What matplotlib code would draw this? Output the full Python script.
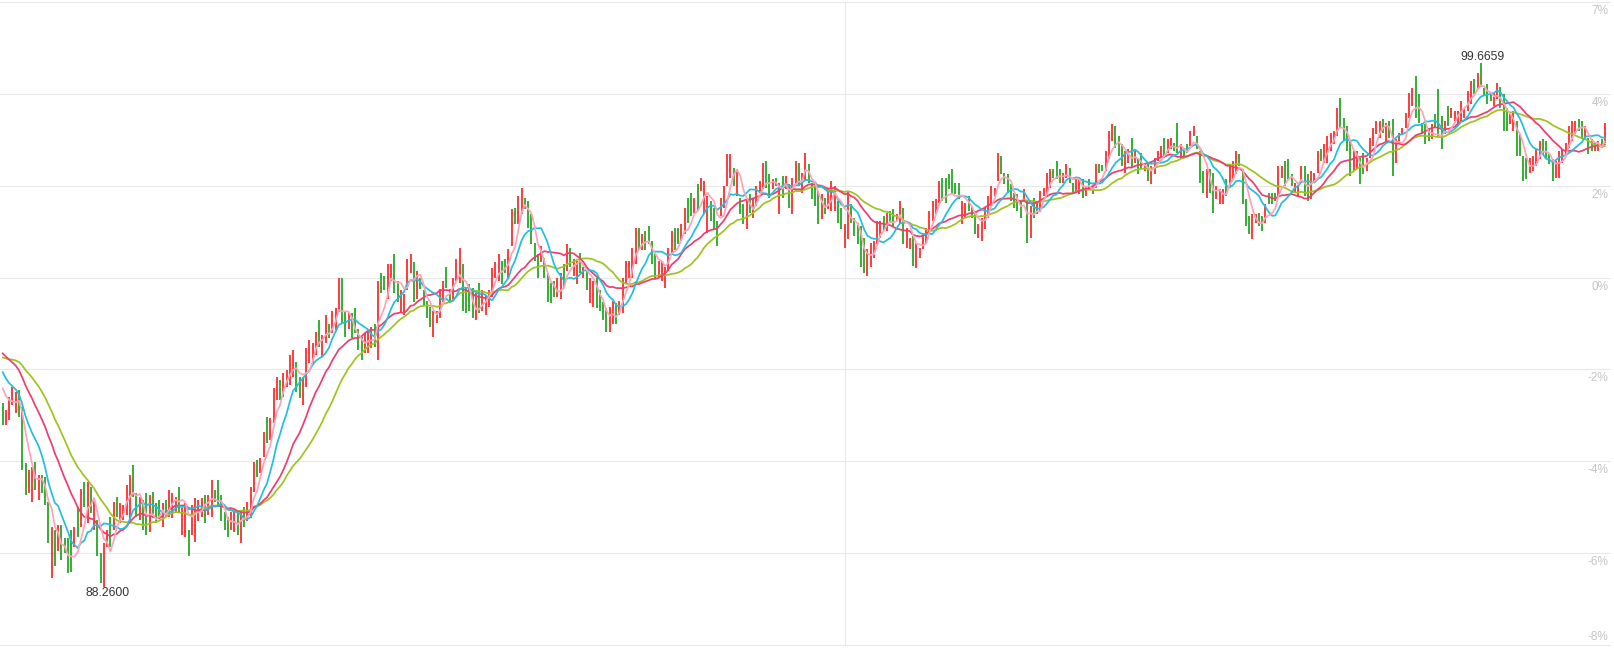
import numpy as np
import pandas as pd
import matplotlib
matplotlib.use("Agg")
import matplotlib.pyplot as plt

plt.rcParams["font.family"] = ["Liberation Sans", "DejaVu Sans"]

# closes before the first visible bar (only used to warm up the moving averages)
prev_close = [92.8, 92.85, 92.9, 93.0, 93.05, 93.1, 93.15, 93.25, 93.35, 93.35,
              93.6, 93.7, 93.8, 93.9, 94.0, 93.9, 93.8, 93.7, 93.6, 93.6,
              93.5, 93.4, 93.3, 93.2, 93.05, 92.95, 92.85, 92.75, 92.6]

opens = [
    92.27, 91.79, 91.90, 92.22, 92.05, 92.55, 92.18, 90.97, 90.32, 90.12,
    90.99, 90.16, 90.71, 90.66, 90.12, 88.45, 89.51, 89.04, 89.62, 89.34,
    89.34, 89.51, 89.14, 90.01, 89.58, 90.55, 89.66, 90.45, 89.51, 89.73,
    89.01, 88.26, 89.14, 89.79, 89.51, 90.23, 89.66, 89.73, 89.84, 89.73,
    90.92, 90.32, 89.73, 90.16, 90.32, 89.47, 90.34, 90.10, 90.16, 89.58,
    90.16, 89.79, 89.77, 89.88, 90.45, 89.40, 89.36, 89.51, 89.40, 89.25,
    89.69, 89.79, 90.27, 89.84, 89.79, 90.38, 90.60, 90.27, 89.90, 89.79,
    89.51, 89.45, 89.88, 89.23, 90.01, 89.69, 89.77, 90.34, 91.03,
    90.75, 91.10, 91.96, 91.46, 91.83, 92.33, 92.77, 92.40, 92.61, 92.66,
    92.83, 93.16, 92.83, 92.22, 92.61, 93.13, 93.09, 93.31, 94.07, 93.26,
    93.57, 94.00, 93.79, 93.85, 94.24, 94.98, 94.24, 93.89, 94.22, 94.33,
    93.89, 93.70, 93.35, 93.35, 93.46, 94.00, 93.20, 95.11, 95.04, 94.54,
    94.93, 95.52, 94.93, 94.22, 94.18, 94.72, 95.09, 95.33, 94.54, 94.98,
    94.72, 94.50, 94.35, 93.70, 94.02, 94.13, 94.46, 95.22, 94.76, 94.50,
    94.93, 94.89, 95.30, 94.78, 94.87, 94.78, 94.07, 94.89, 94.28, 94.18,
    94.35, 94.57, 94.98, 94.93, 95.37, 95.41, 95.00, 95.69, 96.52, 96.17,
    96.39, 96.74, 96.67,
    96.39, 95.76, 95.52, 95.33, 95.43, 95.09, 94.89, 94.93, 94.57, 94.54,
    95.30, 95.15, 95.65, 95.04, 94.87, 95.54, 94.98, 95.15, 94.44, 94.35,
    94.98, 94.72, 94.46, 94.33, 93.81, 94.00, 94.44, 94.18, 94.22, 94.87,
    95.00, 95.00, 95.30, 96.08, 95.59, 96.02, 96.13, 95.80, 95.52, 95.00,
    94.93, 94.78, 95.15, 95.52, 96.08, 96.08, 95.80, 95.95, 96.74, 96.84,
    96.41, 97.04, 96.89, 96.39, 95.98, 96.67, 96.52, 96.24, 96.34, 96.52,
    97.00, 97.17, 97.39, 96.78, 96.74, 96.61, 96.06, 96.82, 96.30, 96.56,
    96.84, 96.93, 97.54, 97.26, 96.93, 97.17, 96.39, 97.21, 96.93, 97.04,
    96.39, 97.04, 97.49,
    96.84, 97.10, 97.47, 97.06, 97.04, 96.89, 96.28, 96.74, 96.50, 96.45,
    96.45, 96.67, 96.52, 95.65, 95.85, 96.61, 96.30, 96.19, 96.13, 95.87,
    95.04, 95.22, 95.43, 95.74, 95.87, 96.34, 96.02, 96.45, 96.50, 96.24,
    96.17, 96.52, 95.65, 95.63, 95.91, 95.20, 95.43, 95.63, 95.76, 96.02,
    96.24, 96.39, 96.63, 97.17, 97.17, 97.26, 97.36, 97.06, 97.06, 96.17,
    96.30, 96.78, 96.56, 96.45, 95.87, 95.80, 96.06, 96.30, 96.56, 96.78,
    97.10, 97.65, 97.28, 97.26, 97.04, 96.84, 96.82, 96.67, 96.67, 96.67,
    95.87, 96.74, 96.39, 96.45, 96.78, 96.82, 96.95, 97.36, 97.54, 97.36,
    97.06, 97.17, 97.39,
    97.06, 96.84, 96.82, 97.15, 96.78, 97.15, 97.00, 96.95, 97.47, 97.45,
    97.32, 97.58, 97.97, 98.30, 98.08, 97.91, 97.28, 97.49, 98.04, 97.49,
    97.60, 97.71, 97.32, 97.47, 97.04, 97.26, 97.54, 97.60, 98.04, 97.71,
    97.80, 97.93, 98.36, 97.60, 97.82, 97.91, 97.86, 98.08, 98.08, 97.75,
    97.32, 96.74, 97.36, 97.28, 96.71, 96.61, 96.61, 97.15, 97.00, 97.15,
    97.26, 97.69, 97.36, 96.71, 96.34, 95.85, 96.19, 96.41, 96.34, 96.19,
    96.84, 96.84, 96.84, 96.78, 97.17, 97.54, 97.58, 97.26, 96.84, 96.78,
    97.06, 97.43, 97.26, 96.71, 97.06, 97.28, 97.80, 97.49, 97.49, 97.75,
    97.91, 98.08, 98.90,
    98.47, 98.30, 97.97, 97.32, 97.36, 97.60, 97.71, 97.32, 97.60, 97.86,
    98.12, 98.04, 98.45, 97.97, 98.41, 98.45, 97.49, 97.91, 98.12, 98.25,
    98.47, 98.73, 99.38, 98.99, 98.36, 98.34, 98.25, 98.01, 98.56, 99.10,
    98.51, 98.12, 98.73, 98.47, 98.41, 98.30, 98.41, 98.47, 98.62, 98.77,
    99.32, 99.10, 99.6659, 99.12, 99.21, 99.01, 98.73, 98.88, 99.16, 98.99,
    98.69, 98.34, 98.19, 98.41, 98.12, 97.65, 97.60, 97.28, 97.32, 97.43,
    97.58, 98.01, 97.97, 97.69, 97.58, 97.17, 97.17, 97.49, 97.65, 97.82,
    97.97, 98.12, 98.45, 98.41, 98.01, 98.04, 98.01, 97.75, 97.75, 98.01,
    97.93,
]

closes = [
    91.79, 92.12, 92.40, 92.61, 92.51, 91.96, 90.81, 90.27, 90.81, 90.88,
    90.38, 90.71, 90.32, 90.05, 89.23, 89.58, 88.71, 89.62, 88.86, 89.01,
    88.56, 88.60, 89.58, 89.36, 90.40, 90.01, 90.55, 89.88, 90.16, 88.93,
    88.36, 89.23, 89.51, 89.14, 90.12, 89.79, 90.10, 90.05, 90.49, 90.71,
    90.23, 89.79, 90.23, 89.51, 89.40, 90.27, 89.84, 89.66, 89.79, 90.10,
    89.79, 90.38, 90.32, 90.23, 89.90, 89.99, 90.10, 88.93, 90.05, 90.21,
    90.16, 90.21, 89.66, 90.27, 90.60, 90.12, 90.01, 89.69, 89.51, 89.36,
    89.90, 89.95, 89.40, 89.90, 89.58, 90.12, 90.45, 90.99, 90.66,
    91.07, 91.64, 91.40, 91.94, 92.59, 92.83, 92.33, 92.92, 92.98, 93.31,
    93.42, 92.51, 92.38, 92.83, 93.46, 93.63, 93.57, 93.81, 93.48, 93.74,
    94.18, 93.68, 94.28, 94.33, 95.00, 94.02, 93.70, 94.24, 93.68, 93.79,
    93.42, 93.20, 93.79, 93.85, 93.92, 93.48, 94.93, 94.67, 94.72, 95.30,
    95.30, 94.67, 94.46, 94.72, 94.65, 95.41, 95.52, 94.46, 95.15, 94.76,
    94.39, 94.13, 93.92, 94.28, 94.28, 94.76, 94.93, 94.78, 94.46, 95.00,
    95.41, 95.65, 94.28, 94.22, 94.28, 94.13, 94.67, 94.22, 94.72, 94.61,
    94.72, 95.20, 95.33, 95.52, 94.87, 95.09, 95.63, 96.50, 96.17, 96.78,
    96.95, 96.50, 96.08,
    95.74, 95.37, 95.00, 95.69, 95.00, 94.46, 94.44, 94.57, 95.00, 95.09,
    94.78, 95.74, 95.22, 95.41, 95.37, 95.09, 95.22, 94.72, 94.98, 94.93,
    94.33, 94.28, 94.07, 93.81, 94.35, 94.50, 94.00, 94.50, 95.00, 95.37,
    95.37, 95.65, 96.08, 95.59, 95.95, 95.59, 95.74, 95.30, 95.00, 95.37,
    95.37, 95.22, 95.65, 96.02, 95.59, 95.74, 96.17, 96.52, 96.19, 96.34,
    96.74, 96.45, 97.17, 97.10, 96.78, 96.24, 96.06, 95.69, 96.74, 97.00,
    97.69, 97.69, 97.00, 97.36, 96.39, 96.17, 96.74, 96.41, 96.71, 97.00,
    97.10, 97.49, 96.95, 96.74, 97.15, 97.00, 97.06, 96.74, 97.21, 96.52,
    97.17, 97.54, 97.00,
    97.28, 97.71, 97.06, 96.71, 96.56, 96.17, 96.82, 96.39, 96.95, 97.10,
    97.00, 96.19, 96.06, 96.17, 96.89, 96.19, 95.91, 95.74, 95.22, 95.11,
    95.63, 95.76, 95.80, 96.24, 96.24, 96.02, 96.41, 96.19, 96.13, 96.39,
    96.67, 95.74, 96.08, 95.87, 95.26, 95.76, 95.65, 95.95, 96.08, 96.45,
    96.67, 96.71, 97.10, 96.67, 96.63, 96.93, 96.82, 96.82, 96.71, 96.67,
    96.63, 96.45, 96.30, 95.95, 96.17, 96.30, 96.52, 96.78, 97.00, 96.95,
    97.71, 97.26, 97.04, 96.84, 96.67, 96.52, 96.45, 96.30, 96.93, 95.76,
    96.56, 96.30, 96.67, 96.89, 96.95, 97.28, 97.36, 97.17, 97.15, 97.06,
    97.28, 97.47, 97.06,
    96.82, 97.17, 97.15, 96.74, 97.00, 96.93, 96.82, 97.47, 97.28, 97.32,
    97.75, 98.19, 98.34, 97.82, 97.65, 97.43, 97.75, 97.80, 97.39, 97.75,
    97.26, 97.36, 97.49, 97.10, 97.43, 97.60, 97.75, 97.86, 97.60, 98.01,
    98.04, 97.75, 97.71, 97.91, 97.60, 97.71, 98.19, 98.30, 97.80, 97.06,
    96.84, 97.36, 96.84, 96.41, 97.00, 96.93, 96.93, 96.78, 97.47, 97.54,
    97.75, 97.43, 96.61, 96.13, 95.95, 96.39, 96.39, 96.13, 96.02, 96.61,
    96.61, 96.61, 96.67, 97.43, 97.43, 97.00, 97.15, 97.00, 97.06, 97.00,
    97.43, 96.78, 96.67, 97.32, 97.28, 97.75, 97.54, 97.91, 98.08, 98.15,
    98.19, 98.69, 98.25,
    97.97, 97.75, 97.21, 97.75, 97.75, 97.04, 97.26, 97.60, 98.04, 98.25,
    98.41, 98.41, 98.15, 98.36, 98.04, 97.21, 98.01, 98.15, 98.25, 98.58,
    99.01, 99.12, 98.47, 98.36, 98.15, 97.91, 97.97, 98.34, 98.25, 98.08,
    97.80, 98.41, 98.30, 98.69, 98.62, 98.62, 98.84, 98.69, 99.06, 99.27,
    98.99, 99.45, 99.16, 98.95, 98.77, 98.84, 99.01, 99.23, 98.69, 98.19,
    98.19, 98.56, 98.62, 97.65, 97.65, 97.10, 97.15, 97.60, 97.65, 97.80,
    97.97, 97.69, 97.60, 97.47, 97.10, 97.54, 97.75, 97.80, 97.93, 98.30,
    98.41, 98.41, 98.19, 98.04, 98.30, 97.69, 97.75, 97.93, 97.97, 97.82,
    98.36,
]

ma_periods = [30, 20, 10, 5]
ma_colors = ["#9dc41e", "#f03c6e", "#20bfe0", "#ffa2ba"]

grid_levels = [101, 99, 97, 95, 93, 91, 89, 87]
pct_labels = ["7%", "4%", "2%", "0%", "-2%", "-4%", "-6%", "-8%"]
split_idx = 258

o = np.array(opens)
c = np.array(closes)
hi = np.maximum(o, c)
lo = np.minimum(o, c)
x = np.arange(len(c))
up = c >= o

fig = plt.figure(figsize=(16.15, 6.48), dpi=100)
ax = fig.add_axes([0, 3 / 648, 1610 / 1615, 643 / 648])

for lvl in grid_levels:
    ax.axhline(lvl, color="#e8e8e8", lw=0.8, zorder=0, clip_on=False)
ax.axvline(split_idx, color="#e8e8e8", lw=0.8, zorder=0)

ax.vlines(x[up], lo[up], hi[up], colors="#ff1a1a", lw=1.2, zorder=2)
ax.vlines(x[~up], lo[~up], hi[~up], colors="#13a013", lw=1.2, zorder=2)

# moving averages, warmed up with the earlier closes
full = pd.Series(prev_close + closes)
for p, col in zip(ma_periods, ma_colors):
    ma = full.rolling(p).mean().iloc[len(prev_close):].to_numpy()
    ax.plot(x, ma, color=col, lw=1.25, zorder=3)

# max / min labels
imax = int(np.argmax(hi))
imin = int(np.argmin(lo))
ax.annotate(f"{hi[imax]:.4f}", xy=(imax, hi[imax]), xytext=(1.5, 0.5),
            textcoords="offset points", ha="center", va="bottom",
            fontsize=8.8, color="#333333", zorder=4)
ax.annotate(f"{lo[imin]:.4f}", xy=(imin, lo[imin]), xytext=(2.7, 0),
            textcoords="offset points", ha="center", va="top",
            fontsize=8.8, color="#333333", zorder=4)

# percent labels on the right
for lvl, lab in zip(grid_levels, pct_labels):
    if lvl == min(grid_levels):
        off, va = 1.5, "bottom"
    else:
        off, va = -2.2, "top"
    ax.annotate(lab, xy=(1, lvl), xycoords=("axes fraction", "data"),
                xytext=(-1, off), textcoords="offset points",
                ha="right", va=va, fontsize=8.5, color="#c4c4c4")

ax.set_xlim(-0.83, 492.6)
ax.set_ylim(87, 101)
ax.axis("off")

fig.savefig("out.png", dpi=100)
